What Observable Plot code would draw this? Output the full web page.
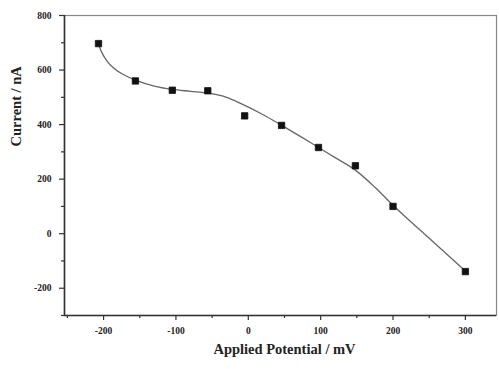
<!DOCTYPE html>
<html>
<head>
<meta charset="utf-8">
<script src="https://cdn.jsdelivr.net/npm/d3@7"></script>
<script src="https://cdn.jsdelivr.net/npm/@observablehq/plot@0.6"></script>
<style>
  html, body { margin: 0; padding: 0; background: #fff; }
  #chart svg { display: block; }
</style>
</head>
<body>
<div id="chart"></div>
<script>
// measured points
const potential = [-207, -156, -105, -56, -5, 46, 97, 148, 200, 300];
const current   = [697, 560, 526, 524, 432, 397, 316, 249, 100, -139];

// fitted curve
const curveX = [-207, -202, -195, -185, -170, -155, -130, -105, -80, -55, -30, -10, 20, 45, 73, 97, 120, 148, 175, 200, 250, 300];
const curveY = [694, 662, 632, 605, 580, 562, 541, 529, 522, 515, 500, 477, 437, 399, 355, 316, 279, 233, 170, 104, -17, -137];

// axes
const xDomain = [-254, 343];
const yDomain = [-300, 800];
const xMajor = [-200, -100, 0, 100, 200, 300];
const xMinor = [-250, -150, -50, 50, 150, 250];
const yMajor = [-200, 0, 200, 400, 600, 800];
const yMinor = [-300, -100, 100, 300, 500, 700];
const xTitle = "Applied Potential / mV";
const yTitle = "Current / nA";

const pts = potential.map((x, i) => ({x, y: current[i]}));
const fit = curveX.map((x, i) => ({x, y: curveY[i]}));

const font = "'Liberation Serif', 'DejaVu Serif', serif";
const axisColor = "#333";

const chart = Plot.plot({
  width: 499,
  height: 369,
  marginLeft: 64,
  marginRight: 3,
  marginTop: 15,
  marginBottom: 54,
  style: { fontFamily: font, background: "#fff" },
  x: { domain: xDomain },
  y: { domain: yDomain },
  marks: [
    Plot.frame({ stroke: "#888", strokeWidth: 1.2 }),
    Plot.ruleX([xDomain[0]], { stroke: axisColor, strokeWidth: 1.6 }),
    Plot.ruleY([yDomain[0]], { stroke: axisColor, strokeWidth: 1.6 }),
    Plot.axisX({ ticks: xMajor, tickSize: 5, tickPadding: 7, tickFormat: d => d, fontSize: 9.5, fontWeight: "bold", label: null, stroke: axisColor, strokeWidth: 1.2, fill: "#222" }),
    Plot.axisX({ ticks: xMinor, tickSize: 3, tickFormat: () => "", label: null, stroke: axisColor, strokeWidth: 1.2 }),
    Plot.axisY({ ticks: yMajor, tickSize: 5, tickPadding: 8, tickFormat: d => d, fontSize: 9.5, fontWeight: "bold", label: null, stroke: axisColor, strokeWidth: 1.2, fill: "#222" }),
    Plot.axisY({ ticks: yMinor, tickSize: 3, tickFormat: () => "", label: null, stroke: axisColor, strokeWidth: 1.2 }),
    Plot.line(fit, { x: "x", y: "y", curve: "monotone-x", stroke: "#666", strokeWidth: 1.3 }),
    Plot.dot(pts, { x: "x", y: "y", symbol: "square", r: 3.6, fill: "#111", stroke: "#111", strokeWidth: 0.8, strokeLinejoin: "round" }),
    Plot.text([xTitle], { frameAnchor: "bottom", dx: 4, dy: 38, text: d => d, fontSize: 14.5, fontWeight: "bold", fill: "#222" }),
    Plot.text([yTitle], { frameAnchor: "left", dx: -48, dy: -19, rotate: -90, text: d => d, fontSize: 14.5, fontWeight: "bold", fill: "#222" })
  ]
});
document.getElementById("chart").appendChild(chart);
</script>
</body>
</html>
